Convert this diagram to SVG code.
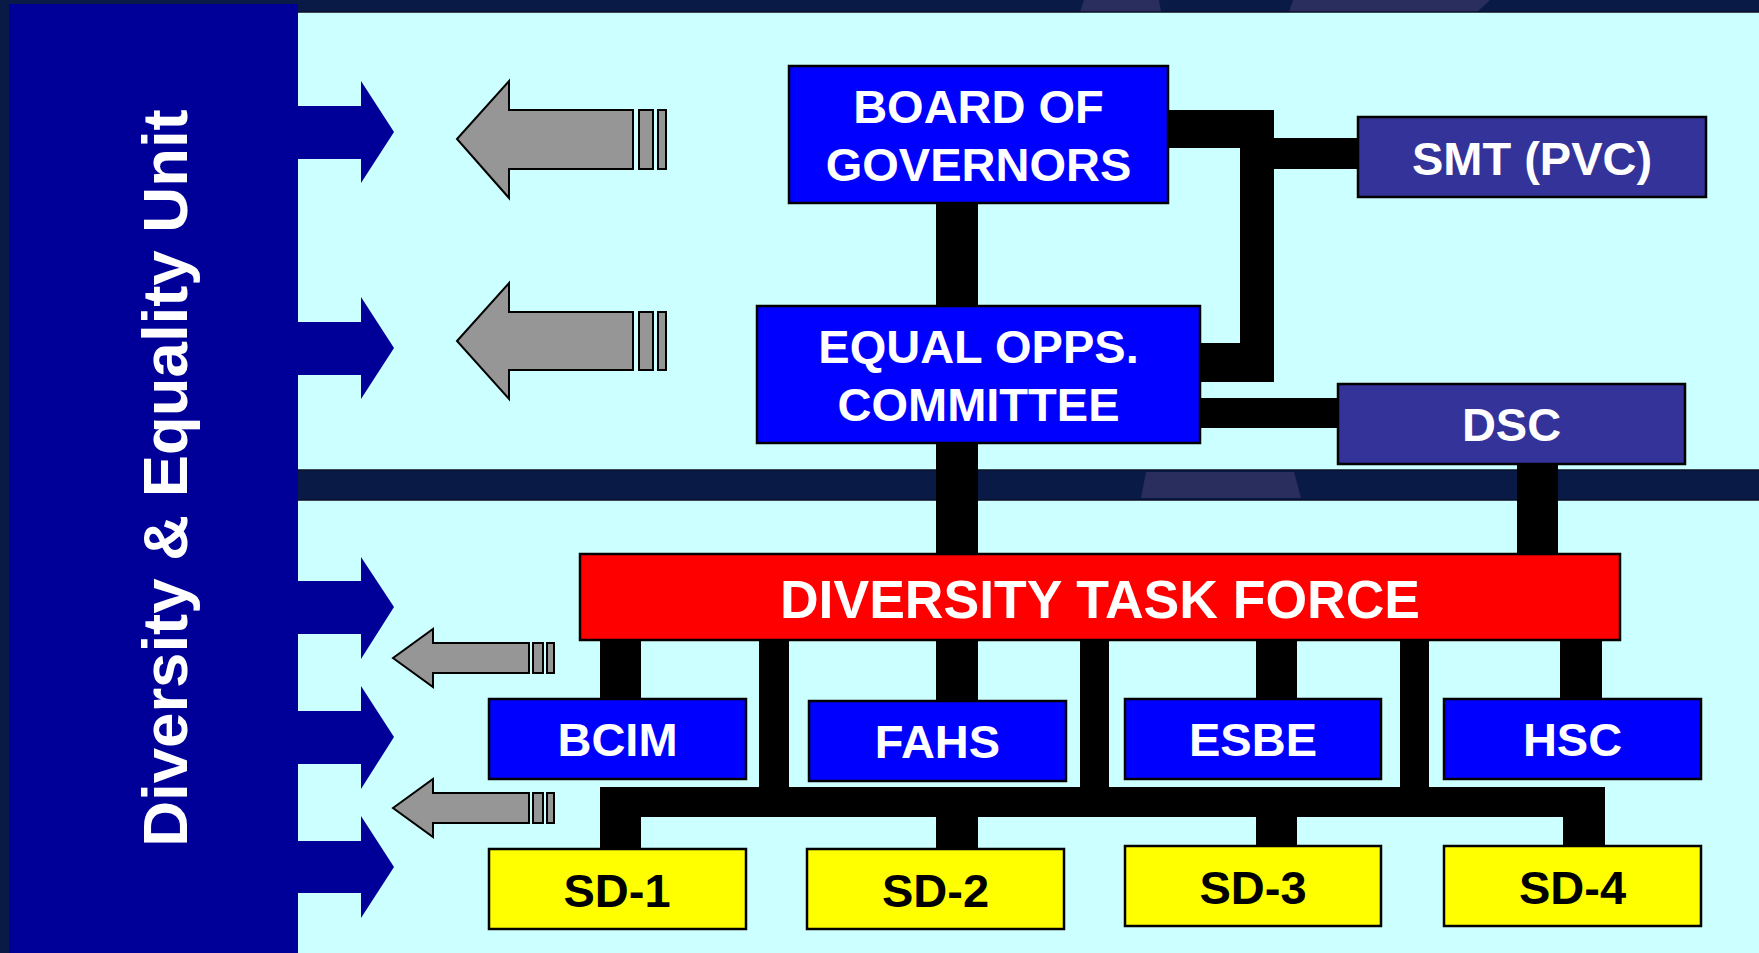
<svg xmlns="http://www.w3.org/2000/svg" width="1759" height="953" viewBox="0 0 1759 953">
<style>
text{font-family:"Liberation Sans",Arial,sans-serif;font-weight:bold;text-anchor:middle}
.band{fill:#081a45}
.trap{fill:#2a2e5e}
.cyan{fill:#ccffff;stroke:#0a0f25;stroke-width:1.5}
.panel{fill:#000099}
.blue{fill:#0000ff;stroke:#000;stroke-width:2.5}
.purple{fill:#333399;stroke:#000;stroke-width:2.5}
.red{fill:#ff0000;stroke:#000;stroke-width:2.5}
.yellow{fill:#ffff00;stroke:#000;stroke-width:2.5}
.gray{fill:#969696;stroke:#000;stroke-width:2}
.wt{fill:#ffffff;font-size:47px}
.bt{fill:#000000;font-size:47px}
.conn rect{fill:#000}
</style>
<g id="background">
<rect class="band" x="0" y="0" width="1759" height="953"/>
<polygon class="trap" points="1084,0 1159,0 1161,12 1080,12"/>
<polygon class="trap" points="1293,0 1490,0 1477,12 1289,12"/>
<rect class="cyan" x="297" y="12" width="1470" height="458"/>
<rect class="cyan" x="297" y="500" width="1470" height="460"/>
<polygon class="trap" points="1146,472 1294,472 1301,498 1141,498"/>
</g>
<g id="side-panel">
<rect class="panel" x="9" y="4" width="289" height="960"/>
<polygon class="panel" points="290,106 361,106 361,81 394,132 361,183 361,159 290,159"/>
<polygon class="panel" points="290,322 361,322 361,297 394,348 361,399 361,375 290,375"/>
<polygon class="panel" points="290,581 361,581 361,557 394,607 361,659 361,634 290,634"/>
<polygon class="panel" points="290,711 361,711 361,686 394,737 361,789 361,764 290,764"/>
<polygon class="panel" points="290,841 361,841 361,816 394,867 361,918 361,893 290,893"/>
<text class="wt" style="font-size:63.5px" transform="translate(187,478) rotate(-90)">Diversity &amp; Equality Unit</text>
</g>
<g id="gray-arrows">
<polygon class="gray" points="457,139 509,81 509,110 633,110 633,169 509,169 509,198"/>
<rect class="gray" x="639" y="110" width="14" height="59"/>
<rect class="gray" x="658" y="110" width="8" height="59"/>
<polygon class="gray" points="457,341 509,283 509,312 633,312 633,370 509,370 509,399"/>
<rect class="gray" x="639" y="312" width="14" height="58"/>
<rect class="gray" x="658" y="312" width="8" height="58"/>
<polygon class="gray" points="393,658 433,629 433,643 529,643 529,673 433,673 433,687"/>
<rect class="gray" x="533" y="643" width="10" height="30"/>
<rect class="gray" x="547" y="643" width="7" height="30"/>
<polygon class="gray" points="393,808 433,779 433,793 529,793 529,823 433,823 433,837"/>
<rect class="gray" x="533" y="793" width="10" height="30"/>
<rect class="gray" x="547" y="793" width="7" height="30"/>
</g>
<g id="connectors" class="conn">
<rect x="936" y="200" width="42" height="110"/>
<rect x="936" y="440" width="42" height="116"/>
<rect x="1166" y="110" width="108" height="38"/>
<rect x="1240" y="110" width="34" height="272"/>
<rect x="1198" y="343" width="76" height="39"/>
<rect x="1272" y="138" width="88" height="31"/>
<rect x="1198" y="398" width="142" height="30"/>
<rect x="1517" y="462" width="41" height="94"/>
<rect x="600" y="638" width="41" height="63"/>
<rect x="759" y="638" width="30" height="179"/>
<rect x="936" y="638" width="42" height="65"/>
<rect x="1080" y="638" width="29" height="179"/>
<rect x="1256" y="638" width="41" height="63"/>
<rect x="1400" y="638" width="29" height="179"/>
<rect x="1560" y="638" width="42" height="63"/>
<rect x="600" y="787" width="1005" height="30"/>
<rect x="600" y="787" width="41" height="64"/>
<rect x="936" y="815" width="42" height="36"/>
<rect x="1256" y="815" width="41" height="33"/>
<rect x="1563" y="815" width="42" height="33"/>
</g>
<g id="board">
<rect class="blue" x="789" y="66" width="379" height="137"/>
<text class="wt" x="978.5" y="123">BOARD OF</text>
<text class="wt" x="978.5" y="181">GOVERNORS</text>
</g>
<g id="smt">
<rect class="purple" x="1358" y="117" width="348" height="80"/>
<text class="wt" x="1532" y="175">SMT (PVC)</text>
</g>
<g id="equal-opps">
<rect class="blue" x="757" y="306" width="443" height="137"/>
<text class="wt" x="978.5" y="363">EQUAL OPPS.</text>
<text class="wt" x="978.5" y="421">COMMITTEE</text>
</g>
<g id="dsc">
<rect class="purple" x="1338" y="384" width="347" height="80"/>
<text class="wt" x="1511.5" y="441">DSC</text>
</g>
<g id="task-force">
<rect class="red" x="580" y="554" width="1040" height="86"/>
<text class="wt" style="font-size:53.5px" x="1100" y="618">DIVERSITY TASK FORCE</text>
</g>
<g id="bcim">
<rect class="blue" x="489" y="699" width="257" height="80"/>
<text class="wt" x="617.5" y="756">BCIM</text>
</g>
<g id="fahs">
<rect class="blue" x="809" y="701" width="257" height="80"/>
<text class="wt" x="937.5" y="758">FAHS</text>
</g>
<g id="esbe">
<rect class="blue" x="1125" y="699" width="256" height="80"/>
<text class="wt" x="1253" y="756">ESBE</text>
</g>
<g id="hsc">
<rect class="blue" x="1444" y="699" width="257" height="80"/>
<text class="wt" x="1572.5" y="756">HSC</text>
</g>
<g id="sd1">
<rect class="yellow" x="489" y="849" width="257" height="80"/>
<text class="bt" x="617" y="907">SD-1</text>
</g>
<g id="sd2">
<rect class="yellow" x="807" y="849" width="257" height="80"/>
<text class="bt" x="935.5" y="907">SD-2</text>
</g>
<g id="sd3">
<rect class="yellow" x="1125" y="846" width="256" height="80"/>
<text class="bt" x="1253" y="904">SD-3</text>
</g>
<g id="sd4">
<rect class="yellow" x="1444" y="846" width="257" height="80"/>
<text class="bt" x="1572.5" y="904">SD-4</text>
</g>
</svg>
